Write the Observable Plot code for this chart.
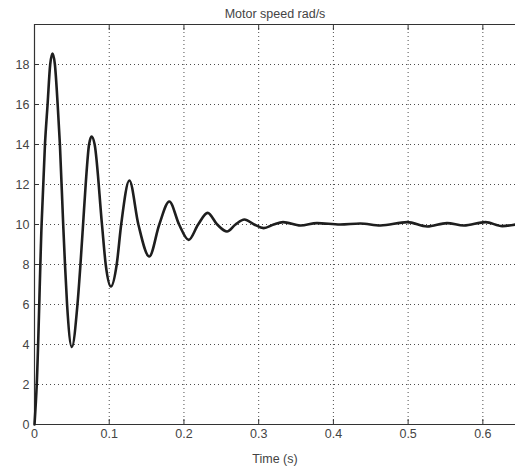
<!DOCTYPE html>
<html>
<head>
<meta charset="utf-8">
<script src="https://cdn.jsdelivr.net/npm/d3@7"></script>
<script src="https://cdn.jsdelivr.net/npm/@observablehq/plot@0.6"></script>
<style>
  html, body { margin: 0; padding: 0; background: #fff; }
  #chart svg { display: block; }
</style>
</head>
<body>
<div id="chart"></div>
<script>
// Data
const time = [0, 0.003, 0.0095, 0.014, 0.0175, 0.021, 0.0241, 0.0273, 0.031, 0.034, 0.0384, 0.0408, 0.0436,
  0.050, 0.0575, 0.0615, 0.065, 0.0685, 0.073, 0.0764, 0.0805, 0.0903, 0.0953, 0.1023, 0.110, 0.116,
  0.127, 0.139, 0.1536, 0.167, 0.1804, 0.1935, 0.2063, 0.219,
  0.2317, 0.2445, 0.2576, 0.269, 0.281, 0.294, 0.3067, 0.32, 0.3326, 0.356, 0.378, 0.409, 0.436, 0.463,
  0.499, 0.5255, 0.552, 0.5746, 0.6036, 0.626, 0.6437];
const speed = [0, 2, 10, 14, 16, 18, 18.55, 18, 16, 14, 10, 8, 6,
  3.88, 6, 8, 10, 12, 14, 14.4, 14, 10, 8, 6.9, 8, 10,
  12.2, 10, 8.4, 10, 11.15, 10, 9.23, 10,
  10.58, 10, 9.65, 10, 10.25, 10, 9.82, 10, 10.12, 9.95, 10.07, 10.0, 10.05, 9.95,
  10.12, 9.9, 10.07, 9.95, 10.12, 9.92, 10.0];
const xTicks = [0, 0.1, 0.2, 0.3, 0.4, 0.5, 0.6];
const yTicks = [0, 2, 4, 6, 8, 10, 12, 14, 16, 18];
const xDomain = [0, 0.6437];
const yDomain = [0, 20];
const titleText = "Motor speed rad/s";
const xLabel = "Time (s)";

const data = time.map((t, i) => ({t, v: speed[i]}));
const ink = "#333";

const chart = Plot.plot({
  width: 515,
  height: 471,
  marginTop: 24,
  marginBottom: 47,
  marginLeft: 34,
  marginRight: 0,
  style: {fontFamily: "'Liberation Sans', Arial, sans-serif", fontSize: "12.5px", color: "#444", background: "#fff"},
  x: {domain: xDomain},
  y: {domain: yDomain},
  marks: [
    Plot.gridX(xTicks.slice(1), {stroke: "#000", strokeOpacity: 0.7, strokeDasharray: "1,3"}),
    Plot.gridY(yTicks.slice(1), {stroke: "#000", strokeOpacity: 0.7, strokeDasharray: "1,3"}),
    Plot.axisX(xTicks, {anchor: "bottom", tickSize: 0, tickPadding: 5, tickFormat: d => String(d),
      label: xLabel, labelAnchor: "center", labelArrow: "none", labelOffset: 38, fill: "#444"}),
    Plot.axisX(xTicks, {anchor: "bottom", tickSize: 5, dy: -5, text: null, label: null, stroke: ink}),
    Plot.axisX(xTicks, {anchor: "top", tickSize: 5, dy: 5, text: null, label: null, stroke: ink}),
    Plot.axisY(yTicks, {anchor: "left", tickSize: 0, tickPadding: 5, tickFormat: d => String(d), label: null, fill: "#444"}),
    Plot.axisY(yTicks, {anchor: "left", tickSize: 5, dx: 5, text: null, label: null, stroke: ink}),
    Plot.ruleY([yDomain[0]], {stroke: ink, strokeWidth: 1.2}),
    Plot.ruleY([yDomain[1]], {stroke: ink, strokeWidth: 1.2}),
    Plot.ruleX([xDomain[0]], {stroke: ink, strokeWidth: 1.2}),
    Plot.line(data, {x: "t", y: "v", curve: "monotone-x", stroke: "#1e1e1e", strokeWidth: 2.6}),
    Plot.text([titleText], {frameAnchor: "top", dy: -15, fill: "#444", fontSize: 12.5})
  ]
});
document.getElementById("chart").append(chart);
</script>
</body>
</html>
